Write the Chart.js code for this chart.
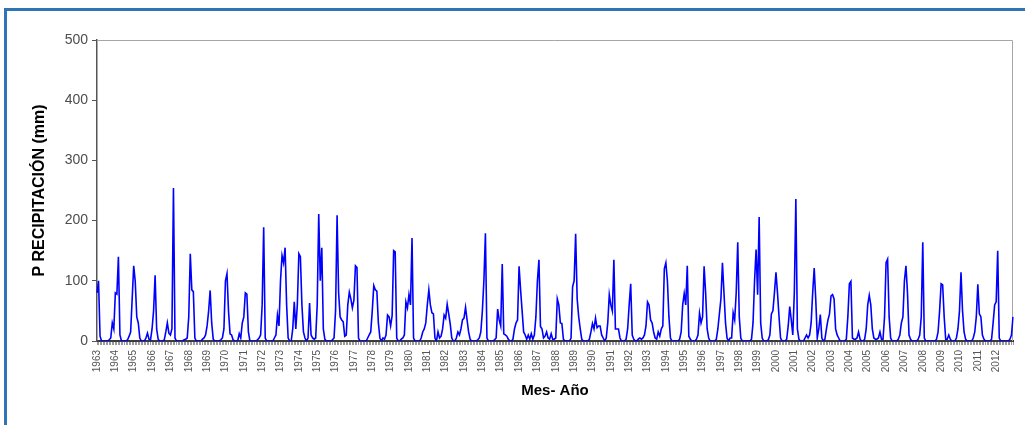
<!DOCTYPE html>
<html>
<head>
<meta charset="utf-8">
<script src="https://cdn.jsdelivr.net/npm/chart.js@4/dist/chart.umd.min.js"></script>
<style>
  body { margin: 0; background: #fff; overflow: hidden; }
  #marco { position: absolute; left: 4px; top: 8px; width: 1100px; height: 500px;
           border-left: 3px solid #2e75b6; border-top: 3px solid #2e75b6; }
  #grafico { position: absolute; left: 0; top: 0; }
</style>
</head>
<body>
<div id="marco"></div>
<canvas id="grafico" width="1025" height="425"></canvas>
<script>
// años de la serie (etiquetas del eje X, una por enero)
const anios = [1963, 1964, 1965, 1966, 1967, 1968, 1969, 1970, 1971, 1972,
  1973, 1974, 1975, 1976, 1977, 1978, 1979, 1980, 1981, 1982,
  1983, 1984, 1985, 1986, 1987, 1988, 1989, 1990, 1991, 1992,
  1993, 1994, 1995, 1996, 1997, 1998, 1999, 2000, 2001, 2002,
  2003, 2004, 2005, 2006, 2007, 2008, 2009, 2010, 2011, 2012];

// precipitación mensual (mm), ene-dic de cada año
const precip1963_1972 = [
  80, 100, 8, 0, 0, 0, 0, 0, 2, 5, 30, 20,
  80, 78, 140, 10, 0, 0, 0, 0, 2, 8, 15, 70,
  125, 99, 40, 30, 5, 0, 0, 0, 5, 13, 3, 2,
  20, 50, 109, 20, 3, 0, 0, 0, 2, 15, 30, 13,
  10, 20, 254, 5, 0, 0, 0, 0, 0, 2, 3, 5,
  40, 145, 85, 82, 5, 0, 0, 0, 0, 3, 5, 10,
  25, 50, 84, 30, 3, 0, 0, 0, 0, 2, 5, 20,
  100, 112, 50, 12, 10, 2, 0, 0, 0, 12, 5, 30,
  40, 80, 78, 15, 0, 0, 0, 0, 0, 2, 5, 10,
  60, 189, 5, 0, 0, 0, 0, 0, 5, 10, 43, 25
];
const precip1973_1982 = [
  100, 142, 130, 155, 60, 5, 0, 0, 20, 65, 20, 60,
  145, 140, 60, 15, 5, 0, 5, 63, 10, 5, 3, 5,
  60, 211, 100, 155, 20, 3, 0, 0, 0, 0, 2, 5,
  50, 209, 80, 40, 35, 32, 8, 10, 60, 81, 70, 55,
  68, 125, 122, 5, 0, 0, 0, 0, 0, 5, 10, 15,
  50, 92, 85, 83, 30, 5, 0, 5, 3, 10, 43, 40,
  25, 42, 150, 148, 5, 0, 0, 3, 5, 10, 65, 55,
  77, 60, 171, 5, 0, 0, 0, 0, 5, 15, 20, 30,
  60, 85, 60, 47, 45, 5, 0, 15, 5, 8, 20, 43,
  38, 61, 45, 28, 5, 0, 0, 5, 15, 10, 20, 35
];
const precip1983_1992 = [
  38, 56, 35, 15, 3, 0, 0, 0, 0, 2, 5, 15,
  50, 100, 179, 5, 0, 0, 0, 0, 2, 5, 53, 35,
  25, 128, 12, 10, 8, 3, 0, 0, 3, 20, 30, 35,
  124, 85, 50, 15, 10, 3, 10, 3, 12, 3, 10, 40,
  100, 135, 24, 20, 5, 8, 15, 5, 3, 12, 3, 3,
  5, 70, 60, 30, 29, 3, 0, 0, 0, 0, 5, 90,
  100, 178, 70, 40, 20, 3, 0, 0, 0, 0, 3, 15,
  29, 20, 38, 22, 25, 25, 10, 5, 0, 5, 30, 77,
  60, 50, 135, 20, 20, 20, 5, 0, 0, 0, 3, 20,
  60, 95, 10, 3, 0, 0, 3, 5, 3, 5, 10, 25
];
const precip1993_2002 = [
  65, 60, 35, 30, 15, 5, 3, 15, 8, 20, 25, 120,
  130, 100, 40, 5, 0, 0, 0, 0, 0, 3, 15, 60,
  79, 60, 125, 8, 3, 0, 0, 0, 3, 10, 46, 30,
  40, 124, 80, 20, 5, 0, 0, 0, 0, 3, 20, 45,
  70, 130, 80, 30, 5, 0, 5, 5, 47, 35, 80, 164,
  40, 5, 0, 0, 0, 0, 0, 0, 3, 30, 100, 152,
  77, 206, 30, 5, 0, 0, 0, 2, 10, 45, 50, 80,
  114, 80, 40, 5, 0, 0, 0, 3, 25, 57, 35, 10,
  80, 236, 20, 3, 0, 0, 0, 5, 10, 5, 10, 30,
  80, 121, 70, 5, 20, 44, 5, 0, 3, 20, 35, 45
];
const precip2003_2012 = [
  75, 77, 70, 20, 10, 5, 0, 0, 0, 0, 3, 40,
  95, 99, 5, 3, 3, 5, 15, 3, 0, 0, 3, 20,
  60, 76, 60, 20, 5, 3, 3, 5, 15, 3, 3, 40,
  130, 136, 40, 5, 0, 0, 0, 0, 3, 10, 30, 40,
  100, 125, 80, 10, 3, 0, 0, 0, 0, 3, 10, 40,
  164, 5, 0, 0, 0, 0, 0, 0, 0, 3, 15, 50,
  95, 93, 40, 3, 3, 10, 3, 0, 0, 0, 5, 20,
  50, 114, 50, 15, 3, 0, 0, 0, 0, 5, 15, 40,
  94, 45, 40, 10, 3, 0, 0, 0, 0, 3, 30, 60,
  65, 150, 5, 0, 0, 0, 0, 0, 0, 3, 10, 40
];

const precipitacion = [...precip1963_1972, ...precip1973_1982, ...precip1983_1992,
  ...precip1993_2002, ...precip2003_2012];

// una etiqueta por mes; sólo se muestra la de enero
const etiquetas = [];
anios.forEach(a => { for (let m = 1; m <= 12; m++) etiquetas.push(m === 1 ? String(a) : m + '/' + a); });

// borde gris del área de trazado (arriba y derecha)
const bordeArea = {
  id: 'bordeArea',
  beforeDatasetsDraw(chart) {
    const { ctx, chartArea: a } = chart;
    ctx.save();
    ctx.strokeStyle = '#a6a6a6';
    ctx.lineWidth = 1;
    ctx.beginPath();
    ctx.moveTo(a.left, a.top + 0.5);
    ctx.lineTo(a.right - 0.5, a.top + 0.5);
    ctx.lineTo(a.right - 0.5, a.bottom);
    ctx.stroke();
    ctx.restore();
  }
};

Chart.defaults.font.family = "'Liberation Sans', Arial, sans-serif";

new Chart(document.getElementById('grafico'), {
  type: 'line',
  data: {
    labels: etiquetas,
    datasets: [{
      label: 'Precipitación',
      data: precipitacion,
      borderColor: '#0000ff',
      borderWidth: 1.6,
      pointRadius: 0,
      tension: 0,
      fill: false
    }]
  },
  options: {
    responsive: false,
    animation: false,
    devicePixelRatio: 1,
    layout: { padding: { top: 40, right: 12, bottom: 0, left: 0 } },
    plugins: { legend: { display: false }, tooltip: { enabled: false } },
    scales: {
      x: {
        type: 'category',
        offset: false,
        grid: { drawOnChartArea: false, tickLength: 4, color: '#9a9a9a', tickColor: '#9a9a9a' },
        border: { color: '#3c3c3c', width: 2 },
        ticks: {
          autoSkip: false, minRotation: 90, maxRotation: 90, padding: 5,
          color: '#555', font: { size: 10 },
          callback: (v, i) => i % 12 === 0 ? etiquetas[i] : ''
        },
        title: { display: true, text: 'Mes- Año', color: '#000',
                 font: { size: 15, weight: 'bold' }, padding: { top: 0, bottom: 25 } },
        afterFit: s => { s.height = 84; s.paddingLeft = 0; s.paddingRight = 0; }
      },
      y: {
        min: 0, max: 500,
        ticks: { stepSize: 100, color: '#4d4d4d', font: { size: 14 }, padding: 4 },
        grid: { color: 'transparent', tickColor: '#555', tickLength: 5 },
        border: { color: '#555', width: 1.5 },
        title: { display: true, text: 'P RECIPITACIÓN (mm)', color: '#000',
                 font: { size: 16, weight: 'bold' }, padding: { top: 30, bottom: 0 } },
        afterFit: s => { s.width = 97; }
      }
    }
  },
  plugins: [bordeArea]
});
</script>
</body>
</html>
